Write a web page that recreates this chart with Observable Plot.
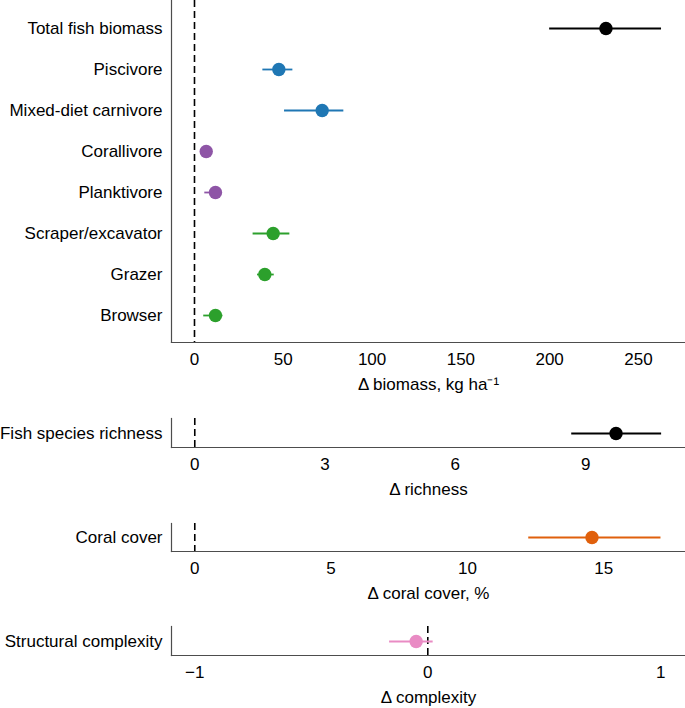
<!DOCTYPE html>
<html>
<head>
<meta charset="utf-8">
<script src="https://cdn.jsdelivr.net/npm/d3@7"></script>
<script src="https://cdn.jsdelivr.net/npm/@observablehq/plot@0.6"></script>
<style>
  html, body { margin: 0; padding: 0; background: white; }
  #chart { width: 685px; }
  #chart svg { display: block; }
</style>
</head>
<body>
<div id="chart"></div>
<script>
// ---- Data ----
const biomassCats = ["Total fish biomass", "Piscivore", "Mixed-diet carnivore", "Corallivore", "Planktivore", "Scraper/excavator", "Grazer", "Browser"];
const biomassGroup = ["Total", "Carnivore", "Carnivore", "Planktivore/corallivore", "Planktivore/corallivore", "Herbivore", "Herbivore", "Herbivore"];
const biomassEst = [231.7, 47.5, 71.9, 6.6, 11.8, 44.3, 39.6, 11.8];
const biomassLo  = [200, 38.5, 50.7, 3.5, 5.8, 33.0, 35.5, 5.2];
const biomassHi  = [263, 55.4, 84.1, 9.5, 15.0, 53.7, 44.9, 16.0];
const biomassTicks = [0, 50, 100, 150, 200, 250];

const richnessCats = ["Fish species richness"];
const richnessGroup = ["Total"];
const richnessEst = [9.70];
const richnessLo = [8.68];
const richnessHi = [10.75];
const richnessTicks = [0, 3, 6, 9];

const coralCats = ["Coral cover"];
const coralGroup = ["Coral"];
const coralEst = [14.57];
const coralLo = [12.25];
const coralHi = [17.10];
const coralTicks = [0, 5, 10, 15];

const complexityCats = ["Structural complexity"];
const complexityGroup = ["Complexity"];
const complexityEst = [-0.05];
const complexityLo = [-0.164];
const complexityHi = [0.023];
const complexityTicks = [-1, 0, 1];

// ---- Styles ----
const groupNames = ["Total", "Carnivore", "Planktivore/corallivore", "Herbivore", "Coral", "Complexity"];
const palette = ["#000000", "#1f77b4", "#8e55a6", "#2ca02c", "#e0600c", "#e98bc4"];
const colorOf = new Map(groupNames.map((g, i) => [g, palette[i]]));
const font = "'Liberation Sans', Arial, Helvetica, sans-serif";
const fmt = d => (d < 0 ? "\u2212" : "") + Math.abs(d);

function panel({cats, groups, est, lo, hi, domain, ticks, title, height, mt, mb}) {
  const rows = cats.map((c, i) => ({cat: c, group: groups[i], est: est[i], lo: lo[i], hi: hi[i]}));
  return Plot.plot({
    width: 685,
    height,
    marginTop: mt,
    marginBottom: mb,
    marginLeft: 171,
    marginRight: 0,
    style: {fontFamily: font, fontSize: "17px", color: "black", background: "white", overflow: "visible"},
    x: {domain, ticks},
    y: {domain: cats, type: "point", padding: 0.6},
    color: {type: "identity"},
    marks: [
      Plot.ruleX([0], {stroke: "black", strokeWidth: 1.6, strokeDasharray: "7,4"}),
      Plot.frame({anchor: "left", stroke: "#4d4d4d", strokeWidth: 1.2}),
      Plot.frame({anchor: "bottom", stroke: "#4d4d4d", strokeWidth: 1.2}),
      Plot.ruleY(rows, {y: "cat", x1: "lo", x2: "hi", stroke: d => colorOf.get(d.group), strokeWidth: 1.8}),
      Plot.dot(rows, {x: "est", y: "cat", fill: d => colorOf.get(d.group), r: 6.7}),
      Plot.axisX({ticks, tickFormat: fmt, tickSize: 0, tickPadding: 10, label: null, fontSize: 17, fill: "black"}),
      Plot.axisY({tickSize: 0, tickPadding: 9, label: null, fontSize: 17, fill: "black"}),
      Plot.text([title], {text: d => d, frameAnchor: "bottom", dy: 47, fontSize: 17, fill: "black"})
    ]
  });
}

const chart = document.getElementById("chart");
chart.append(panel({
  cats: biomassCats, groups: biomassGroup, est: biomassEst, lo: biomassLo, hi: biomassHi,
  domain: [-12.95, 276.5], ticks: biomassTicks, title: "Δ biomass, kg ha⁻¹",
  height: 400, mt: 0, mb: 58
}));
chart.append(panel({
  cats: richnessCats, groups: richnessGroup, est: richnessEst, lo: richnessLo, hi: richnessHi,
  domain: [-0.536, 11.30], ticks: richnessTicks, title: "Δ richness",
  height: 100, mt: 18, mb: 53
}));
chart.append(panel({
  cats: coralCats, groups: coralGroup, est: coralEst, lo: coralLo, hi: coralHi,
  domain: [-0.854, 18.0], ticks: coralTicks, title: "Δ coral cover, %",
  height: 104, mt: 23, mb: 53
}));
chart.append(panel({
  cats: complexityCats, groups: complexityGroup, est: complexityEst, lo: complexityLo, hi: complexityHi,
  domain: [-1.1, 1.106], ticks: complexityTicks, title: "Δ complexity",
  height: 104, mt: 22, mb: 53
}));
</script>
</body>
</html>
